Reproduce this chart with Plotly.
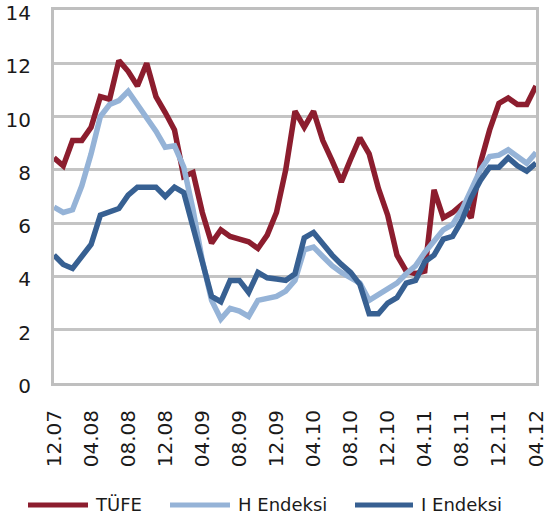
import plotly.graph_objects as go

categories = [
    "12.07", "01.08", "02.08", "03.08", "04.08", "05.08", "06.08", "07.08", "08.08", "09.08", "10.08", "11.08",
    "12.08", "01.09", "02.09", "03.09", "04.09", "05.09", "06.09", "07.09", "08.09", "09.09", "10.09", "11.09",
    "12.09", "01.10", "02.10", "03.10", "04.10", "05.10", "06.10", "07.10", "08.10", "09.10", "10.10", "11.10",
    "12.10", "01.11", "02.11", "03.11", "04.11", "05.11", "06.11", "07.11", "08.11", "09.11", "10.11", "11.11",
    "12.11", "01.12", "02.12", "03.12", "04.12",
]

tick_labels = ["12.07", "04.08", "08.08", "12.08", "04.09", "08.09", "12.09",
               "04.10", "08.10", "12.10", "04.11", "08.11", "12.11", "04.12"]

tufe = [8.45, 8.15, 9.1, 9.1, 9.6, 10.75, 10.65, 12.1, 11.7, 11.15, 12.0, 10.75,
        10.15, 9.5, 7.75, 7.9, 6.4, 5.25, 5.75, 5.5, 5.4, 5.3, 5.05, 5.55,
        6.4, 8.0, 10.2, 9.6, 10.2, 9.1, 8.35, 7.55, 8.4, 9.2, 8.6, 7.3,
        6.3, 4.8, 4.2, 4.1, 4.2, 7.25, 6.2, 6.4, 6.7, 6.2, 8.25, 9.5,
        10.5, 10.7, 10.45, 10.45, 11.15]

h_endeksi = [6.6, 6.4, 6.5, 7.4, 8.6, 10.0, 10.45, 10.6, 10.95, 10.45, 9.95, 9.45,
             8.85, 8.9, 8.1, 6.5, 4.6, 3.1, 2.4, 2.8, 2.7, 2.5, 3.1, 3.15,
             3.25, 3.45, 3.85, 5.0, 5.1, 4.75, 4.4, 4.15, 3.95, 3.75, 3.1, 3.3,
             3.55, 3.75, 4.1, 4.4, 4.9, 5.3, 5.75, 5.95, 6.5, 7.25, 8.0, 8.5,
             8.55, 8.75, 8.5, 8.25, 8.65]

i_endeksi = [4.8, 4.45, 4.3, 4.75, 5.2, 6.3, 6.4, 6.55, 7.05, 7.35, 7.35, 7.35,
             7.0, 7.35, 7.15, 5.9, 4.5, 3.25, 3.05, 3.85, 3.85, 3.4, 4.15, 3.95,
             3.9, 3.85, 4.1, 5.45, 5.65, 5.2, 4.8, 4.45, 4.15, 3.7, 2.6, 2.6,
             3.0, 3.2, 3.75, 3.85, 4.55, 4.8, 5.4, 5.5, 6.1, 6.95, 7.6, 8.1,
             8.1, 8.45, 8.15, 7.95, 8.25]

series_names = ["TÜFE", "H Endeksi", "I Endeksi"]
series_colors = ["#8C1D2E", "#95B3D7", "#376092"]
series_values = [tufe, h_endeksi, i_endeksi]

W, H = 544, 522
ML, MR, MT, MB = 54, 8, 10, 139
PW = W - ML - MR
PH = H - MT - MB
FONT = "DejaVu Sans"


def px_x(px):
    return (px - ML) / PW


def px_y(py):
    return (H - MB - py) / PH


fig = go.Figure()
for name, color, vals in zip(series_names, series_colors, series_values):
    fig.add_trace(go.Scatter(
        x=categories, y=vals, mode="lines", name=name,
        line=dict(color=color, width=5.5),
        showlegend=False,
    ))

# custom legend below the chart
legend_items = [
    (28, 88, 93),
    (170, 230, 236),
    (355, 413, 419),
]
legend_y = 505
shapes = []
annotations = []
for (x0, x1, xt), name, color in zip(legend_items, series_names, series_colors):
    shapes.append(dict(type="line", xref="paper", yref="paper",
                       x0=px_x(x0), x1=px_x(x1), y0=px_y(legend_y), y1=px_y(legend_y),
                       line=dict(color=color, width=5)))
    annotations.append(dict(xref="paper", yref="paper", x=px_x(xt), y=px_y(legend_y - 1),
                            text=name, showarrow=False, xanchor="left", yanchor="middle",
                            font=dict(family=FONT, size=18, color="#1a1a1a")))

fig.update_layout(
    width=W, height=H,
    margin=dict(l=ML, r=MR, t=MT, b=MB, autoexpand=False),
    paper_bgcolor="white", plot_bgcolor="white",
    showlegend=False,
    shapes=shapes,
    annotations=annotations,
    font=dict(family=FONT, color="#1a1a1a"),
    xaxis=dict(
        type="category",
        categoryorder="array", categoryarray=categories,
        range=[0, len(categories) - 1],
        tickmode="array", tickvals=tick_labels, ticktext=tick_labels,
        tickangle=-90,
        tickfont=dict(family=FONT, size=20, color="#1a1a1a"),
        ticklabelstandoff=16,
        ticklabeloverflow="allow",
        showgrid=False, zeroline=False,
        showline=True, linecolor="#BFBFBF", linewidth=3, mirror=True,
        ticks="", automargin=False,
    ),
    yaxis=dict(
        range=[0, 14], dtick=2, tick0=0,
        tickfont=dict(family=FONT, size=20, color="#1a1a1a"),
        ticklabelstandoff=16,
        ticklabelshift=3,
        ticklabeloverflow="allow",
        showgrid=True, gridcolor="#C4C4C4", gridwidth=2.5,
        zeroline=False,
        showline=True, linecolor="#BFBFBF", linewidth=3, mirror=True,
        ticks="", automargin=False,
    ),
)

fig.write_html("out.html", config={"displayModeBar": False},
               post_script="document.body.style.margin='0px';")
